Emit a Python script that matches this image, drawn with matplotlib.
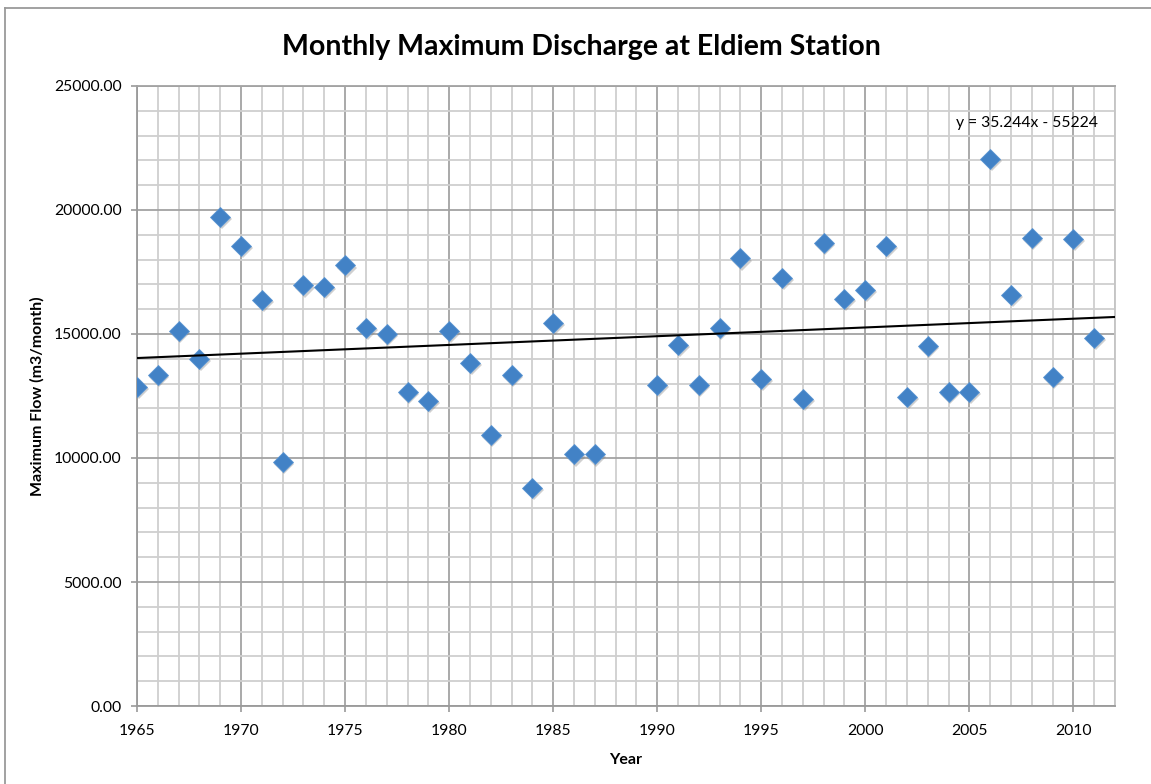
import numpy as np
import matplotlib
matplotlib.use("Agg")
import matplotlib.pyplot as plt
from matplotlib.ticker import MultipleLocator, FormatStrFormatter
from matplotlib.lines import Line2D
import matplotlib.transforms as mtransforms

plt.rcParams['font.family'] = ['Lato', 'DejaVu Sans']

# data (no values for 1988, 1989)
years = [1965, 1966, 1967, 1968, 1969, 1970, 1971, 1972, 1973, 1974,
         1975, 1976, 1977, 1978, 1979, 1980, 1981, 1982, 1983, 1984,
         1985, 1986, 1987, 1990, 1991, 1992, 1993, 1994, 1995, 1996,
         1997, 1998, 1999, 2000, 2001, 2002, 2003, 2004, 2005, 2006,
         2007, 2008, 2009, 2010, 2011]
max_flow = [12860, 13340, 15120, 14010, 19720, 18550, 16360, 9840, 16960, 16900,
            17770, 15240, 14990, 12660, 12300, 15120, 13830, 10940, 13340, 8780,
            15440, 10150, 10150, 12960, 14570, 12960, 15260, 18050, 13190, 17250,
            12380, 18670, 16430, 16790, 18550, 12460, 14520, 12660, 12660, 22070,
            16590, 18870, 13270, 18850, 14840]

# linear trendline as printed on the chart
trend_slope = 35.244
trend_intercept = -55224
trend_label = 'y = 35.244x - 55224'

x_range = [1965, 2012]

fig = plt.figure(figsize=(11.51, 7.84), dpi=100)
ax = fig.add_axes([137 / 1151, 1 - 706 / 784, (1115 - 137) / 1151, (706 - 86) / 784])

ax.set_xlim(x_range)
ax.set_ylim(0, 25000)

# grid: minor every year / 1000, major every 5 years / 5000
ax.xaxis.set_major_locator(MultipleLocator(5))
ax.xaxis.set_minor_locator(MultipleLocator(1))
ax.yaxis.set_major_locator(MultipleLocator(5000))
ax.yaxis.set_minor_locator(MultipleLocator(1000))
ax.yaxis.set_major_formatter(FormatStrFormatter('%.2f'))
ax.grid(which='minor', color='#cfcfcf', linewidth=1.3, zorder=0)
ax.grid(which='major', color='#a3a3a3', linewidth=1.3, zorder=0)
ax.set_axisbelow(True)

for side in ['left', 'bottom']:
    ax.spines[side].set_color('#9a9a9a')
    ax.spines[side].set_linewidth(1.3)
ax.spines['right'].set_color('#c4c4c4')
ax.spines['right'].set_linewidth(1.3)
ax.spines['top'].set_color('#a3a3a3')
ax.spines['top'].set_linewidth(1.3)

ax.tick_params(which='major', direction='out', length=4, width=1.2, color='#9a9a9a',
               labelsize=11.3)
ax.tick_params(axis='x', which='major', pad=9)
ax.tick_params(axis='y', which='major', pad=7)
ax.tick_params(which='minor', length=0)

# shadow under the markers
shadow = mtransforms.offset_copy(ax.transData, fig=fig, x=1.2, y=-1.6, units='points')
ax.plot(years, max_flow, linestyle='none', marker='D', markersize=10.3,
        color='#7a7a7a', alpha=0.35, markeredgewidth=0, transform=shadow, zorder=2)
ax.plot(years, max_flow, linestyle='none', marker='D', markersize=9.8,
        color='#4282c6', markeredgecolor='#5b95d2', markeredgewidth=0.6, zorder=3)

trend_x = np.array(x_range)
ax.plot(trend_x, trend_slope * trend_x + trend_intercept, color='black', linewidth=1.5, zorder=4)

ax.text(2011.2, 23500, trend_label, fontsize=11.3, ha='right', va='center', zorder=5)

ax.set_xlabel('Year', fontsize=11.5, fontweight='bold', labelpad=11)
ax.set_ylabel('Maximum Flow (m3/month)', fontsize=11.5, fontweight='bold', labelpad=7)

fig.text(581 / 1151, 1 - 47 / 784, 'Monthly Maximum Discharge at Eldiem Station',
         fontsize=20.5, fontweight='bold', ha='center', va='center')

# outer chart frame
fig.add_artist(Line2D([5 / 1151, 5 / 1151], [0, 1 - 7.5 / 784], transform=fig.transFigure,
                      color='#9a9a9a', linewidth=1.3))
fig.add_artist(Line2D([5 / 1151, 1], [1 - 7.5 / 784, 1 - 7.5 / 784], transform=fig.transFigure,
                      color='#9a9a9a', linewidth=1.3))

fig.savefig('out.png', dpi=100)
